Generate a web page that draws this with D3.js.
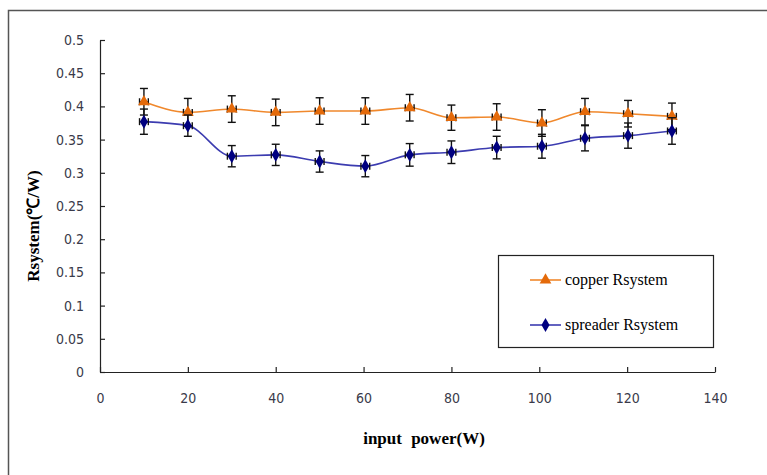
<!DOCTYPE html>
<html>
<head>
<meta charset="utf-8">
<script src="https://cdn.jsdelivr.net/npm/d3@7"></script>
<style>
    html, body { margin: 0; padding: 0; background: #fff; }
    svg { display: block; }
    .tick text { font-family: 'Liberation Sans Narrow', 'Arial Narrow', 'DejaVu Sans Condensed', sans-serif; font-size: 14px; fill: #3a3a4a; }
    .axis path, .axis line { stroke: #222; stroke-width: 1.2; }
    .title { font-family: 'Liberation Serif', 'Times New Roman', serif; font-weight: bold; font-size: 17px; fill: #000; }
    .legend text { font-family: 'Liberation Serif', 'Times New Roman', serif; font-size: 16px; fill: #000; }
</style>
</head>
<body>
<svg id="chart"></svg>
<script>
    // input power (W)
    var powerW = [10, 20, 30, 40, 50, 60.4, 70.5, 80, 90.3, 100.6, 110.4, 120.2, 130.2];
    var powerErr = [1, 1, 1, 1, 1, 1, 1, 1, 1, 1, 1, 1, 1];

    // Rsystem (C/W)
    var copperR = [0.407, 0.391, 0.396, 0.391, 0.393, 0.393, 0.398, 0.383, 0.384, 0.375, 0.392, 0.389, 0.385];
    var copperErr = [0.020, 0.021, 0.020, 0.020, 0.020, 0.020, 0.020, 0.019, 0.020, 0.020, 0.020, 0.020, 0.020];
    var spreaderR = [0.377, 0.371, 0.325, 0.327, 0.317, 0.310, 0.327, 0.331, 0.338, 0.340, 0.352, 0.356, 0.363];
    var spreaderErr = [0.019, 0.016, 0.016, 0.016, 0.016, 0.016, 0.017, 0.017, 0.017, 0.018, 0.019, 0.019, 0.020];

    var xTickValues = [0, 20, 40, 60, 80, 100, 120, 140];
    var yTickLabels = ['0', '0.05', '0.1', '0.15', '0.2', '0.25', '0.3', '0.35', '0.4', '0.45', '0.5'];

    var WIDTH = 767,
        HEIGHT = 475,
        margin = {left: 100, top: 40, right: 52, bottom: 103};

    var svg = d3.select('#chart')
        .attr('width', WIDTH)
        .attr('height', HEIGHT);

    // outer chart frame (runs off the right and bottom edges)
    svg.append('path')
        .attr('d', 'M8.5,' + HEIGHT + 'V10.5H' + WIDTH)
        .attr('fill', 'none')
        .attr('stroke', '#555')
        .attr('stroke-width', 1.5);

    var x = d3.scaleLinear().domain([0, 140]).range([margin.left, WIDTH - margin.right]);
    var y = d3.scaleLinear().domain([0, 0.5]).range([HEIGHT - margin.bottom, margin.top]);

    var xAxis = d3.axisBottom(x)
        .tickValues(xTickValues)
        .tickFormat(d3.format('d'))
        .tickSize(-5)
        .tickSizeOuter(0)
        .tickPadding(21);

    var yAxis = d3.axisLeft(y)
        .tickValues(yTickLabels.map(Number))
        .tickFormat(function (d, i) { return yTickLabels[i]; })
        .tickSize(-5)
        .tickSizeOuter(0)
        .tickPadding(16);

    svg.append('g')
        .attr('class', 'axis')
        .attr('transform', 'translate(0,' + y(0) + ')')
        .call(xAxis);

    svg.append('g')
        .attr('class', 'axis')
        .attr('transform', 'translate(' + x(0) + ',0)')
        .call(yAxis);

    svg.selectAll('.axis .domain').attr('stroke-width', 1.5);

    // axis titles
    svg.append('text')
        .attr('class', 'title')
        .attr('x', 424)
        .attr('y', 444)
        .attr('text-anchor', 'middle')
        .style('word-spacing', '5px')
        .text('input power(W)');

    svg.append('text')
        .attr('class', 'title')
        .attr('transform', 'translate(39,226) rotate(-90)')
        .attr('text-anchor', 'middle')
        .text('Rsystem(℃/W)');

    var series = [
        {name: 'copper Rsystem', values: copperR, err: copperErr, line: '#f0882c', marker: '#e46a0a', symbol: d3.symbolTriangle, size: 60},
        {name: 'spreader Rsystem', values: spreaderR, err: spreaderErr, line: '#3c3cb0', marker: '#000080', symbol: d3.symbolDiamond, size: 56}
    ];

    var line = d3.line()
        .x(function (d) { return x(d.x); })
        .y(function (d) { return y(d.y); })
        .curve(d3.curveMonotoneX);

    series.forEach(function (s) {
        var points = powerW.map(function (p, i) {
            return {x: p, y: s.values[i], e: s.err[i], ex: powerErr[i]};
        });

        var g = svg.append('g');

        g.append('path')
            .datum(points)
            .attr('d', line)
            .attr('fill', 'none')
            .attr('stroke', s.line)
            .attr('stroke-width', 1.6);

        // vertical and horizontal error bars
        var eb = g.selectAll('.eb').data(points).enter().append('g');
        eb.append('line')
            .attr('x1', function (d) { return x(d.x); })
            .attr('x2', function (d) { return x(d.x); })
            .attr('y1', function (d) { return y(d.y - d.e); })
            .attr('y2', function (d) { return y(d.y + d.e); });
        [-1, 1].forEach(function (k) {
            eb.append('line')
                .attr('x1', function (d) { return x(d.x) - 4; })
                .attr('x2', function (d) { return x(d.x) + 4; })
                .attr('y1', function (d) { return y(d.y + k * d.e); })
                .attr('y2', function (d) { return y(d.y + k * d.e); });
            eb.append('line')
                .attr('x1', function (d) { return x(d.x + k * d.ex); })
                .attr('x2', function (d) { return x(d.x + k * d.ex); })
                .attr('y1', function (d) { return y(d.y) - 3.5; })
                .attr('y2', function (d) { return y(d.y) + 3.5; });
        });
        eb.append('line')
            .attr('x1', function (d) { return x(d.x - d.ex); })
            .attr('x2', function (d) { return x(d.x + d.ex); })
            .attr('y1', function (d) { return y(d.y); })
            .attr('y2', function (d) { return y(d.y); });
        eb.selectAll('line')
            .attr('stroke', '#111')
            .attr('stroke-width', 1.4);

        g.selectAll('.mk').data(points).enter().append('path')
            .attr('transform', function (d) { return 'translate(' + x(d.x) + ',' + y(d.y) + ')'; })
            .attr('d', d3.symbol(s.symbol, s.size))
            .attr('fill', s.marker);
    });

    // legend
    var legend = svg.append('g').attr('class', 'legend');
    legend.append('rect')
        .attr('x', 498.5)
        .attr('y', 255.5)
        .attr('width', 215)
        .attr('height', 92)
        .attr('fill', '#fff')
        .attr('stroke', '#222')
        .attr('stroke-width', 1.2);

    series.forEach(function (s, i) {
        var ly = 280 + i * 45;
        legend.append('line')
            .attr('x1', 530).attr('x2', 561)
            .attr('y1', ly).attr('y2', ly)
            .attr('stroke', s.line)
            .attr('stroke-width', 1.6);
        legend.append('path')
            .attr('transform', 'translate(545.5,' + ly + ')')
            .attr('d', d3.symbol(s.symbol, s.size))
            .attr('fill', s.marker);
        legend.append('text')
            .attr('x', 565)
            .attr('y', ly + 5)
            .text(s.name);
    });
</script>
</body>
</html>
